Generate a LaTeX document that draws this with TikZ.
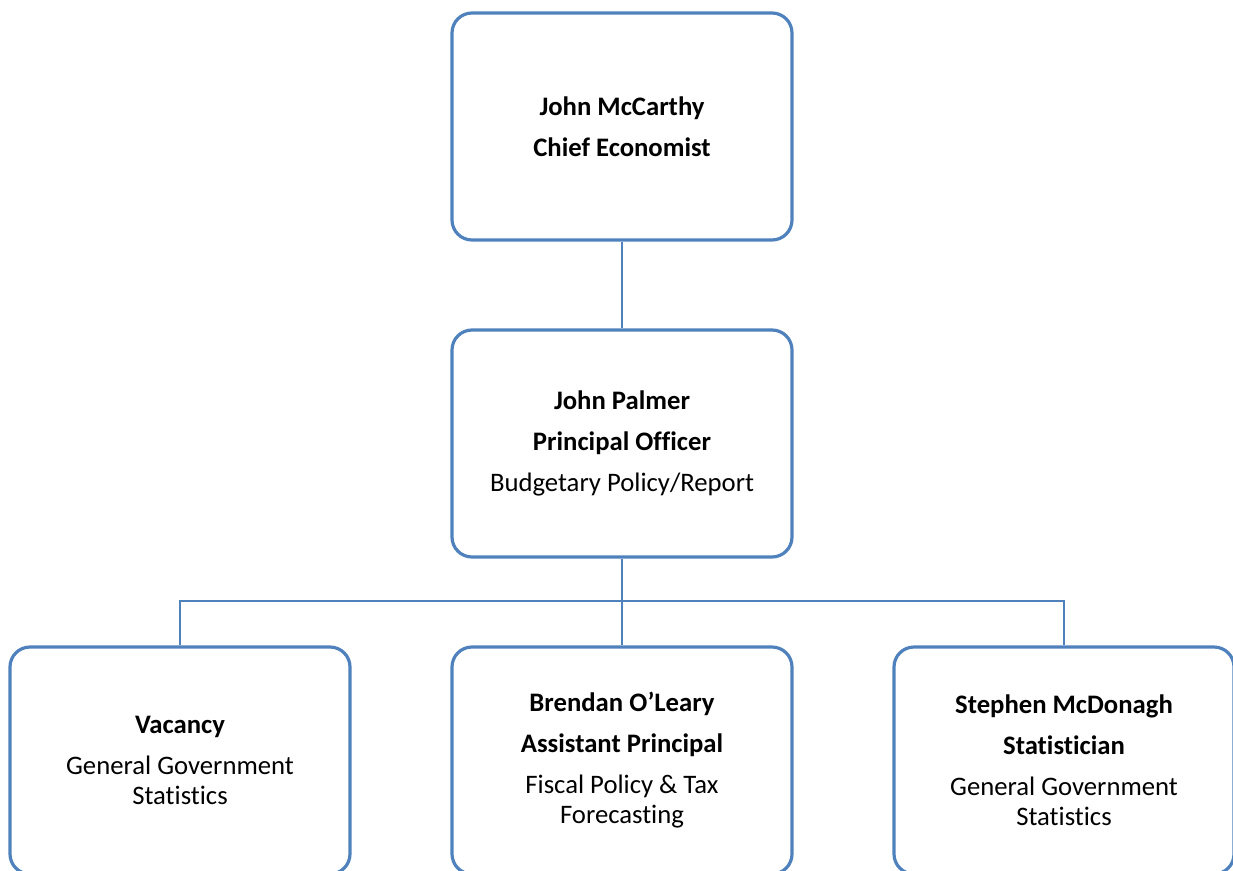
\documentclass[tikz,border=0pt]{standalone}
\usepackage{fontspec}
\setmainfont{Carlito}[RawFeature=-liga]
\begin{document}
\definecolor{boxblue}{RGB}{79,129,189}
\begin{tikzpicture}[x=1pt,y=-1pt,
  orgbox/.style={draw=boxblue, line width=3.2pt, rounded corners=20pt,
    minimum width=340pt, minimum height=227pt, align=center, inner sep=0pt,
    font=\fontsize{26.7}{30}\selectfont},
  link/.style={draw=boxblue, line width=2.4pt}]
\useasboundingbox (0,0) rectangle (1233,870);
\begin{scope}
\clip (0,0) rectangle (1233,870);
\node[orgbox] (chief) at (622,126.5) {\textbf{John McCarthy}\\[11pt]\textbf{Chief Economist}};
\node[orgbox] (principal) at (622,443.5) {\textbf{John Palmer}\\[11pt]\textbf{Principal Officer}\\[11pt]Budgetary Policy/Report};
\node[orgbox] (vacancy) at (180,760.5) {\textbf{Vacancy}\\[11pt]General Government\\Statistics};
\node[orgbox] (assistant) at (622,760.5) {\textbf{Brendan O’Leary}\\[11pt]\textbf{Assistant Principal}\\[11pt]Fiscal Policy \& Tax\\Forecasting};
\node[orgbox] (statistician) at (1064,760.5) {\textbf{Stephen McDonagh}\\[11pt]\textbf{Statistician}\\[11pt]General Government\\Statistics};
\coordinate (bus) at (622,601);
\draw[link] (chief.south) -- (principal.north);
\draw[link] (principal.south) -- (bus);
\draw[link] (vacancy.north) |- (bus) -| (statistician.north);
\draw[link] (bus) -- (assistant.north);
\end{scope}
\end{tikzpicture}
\end{document}
